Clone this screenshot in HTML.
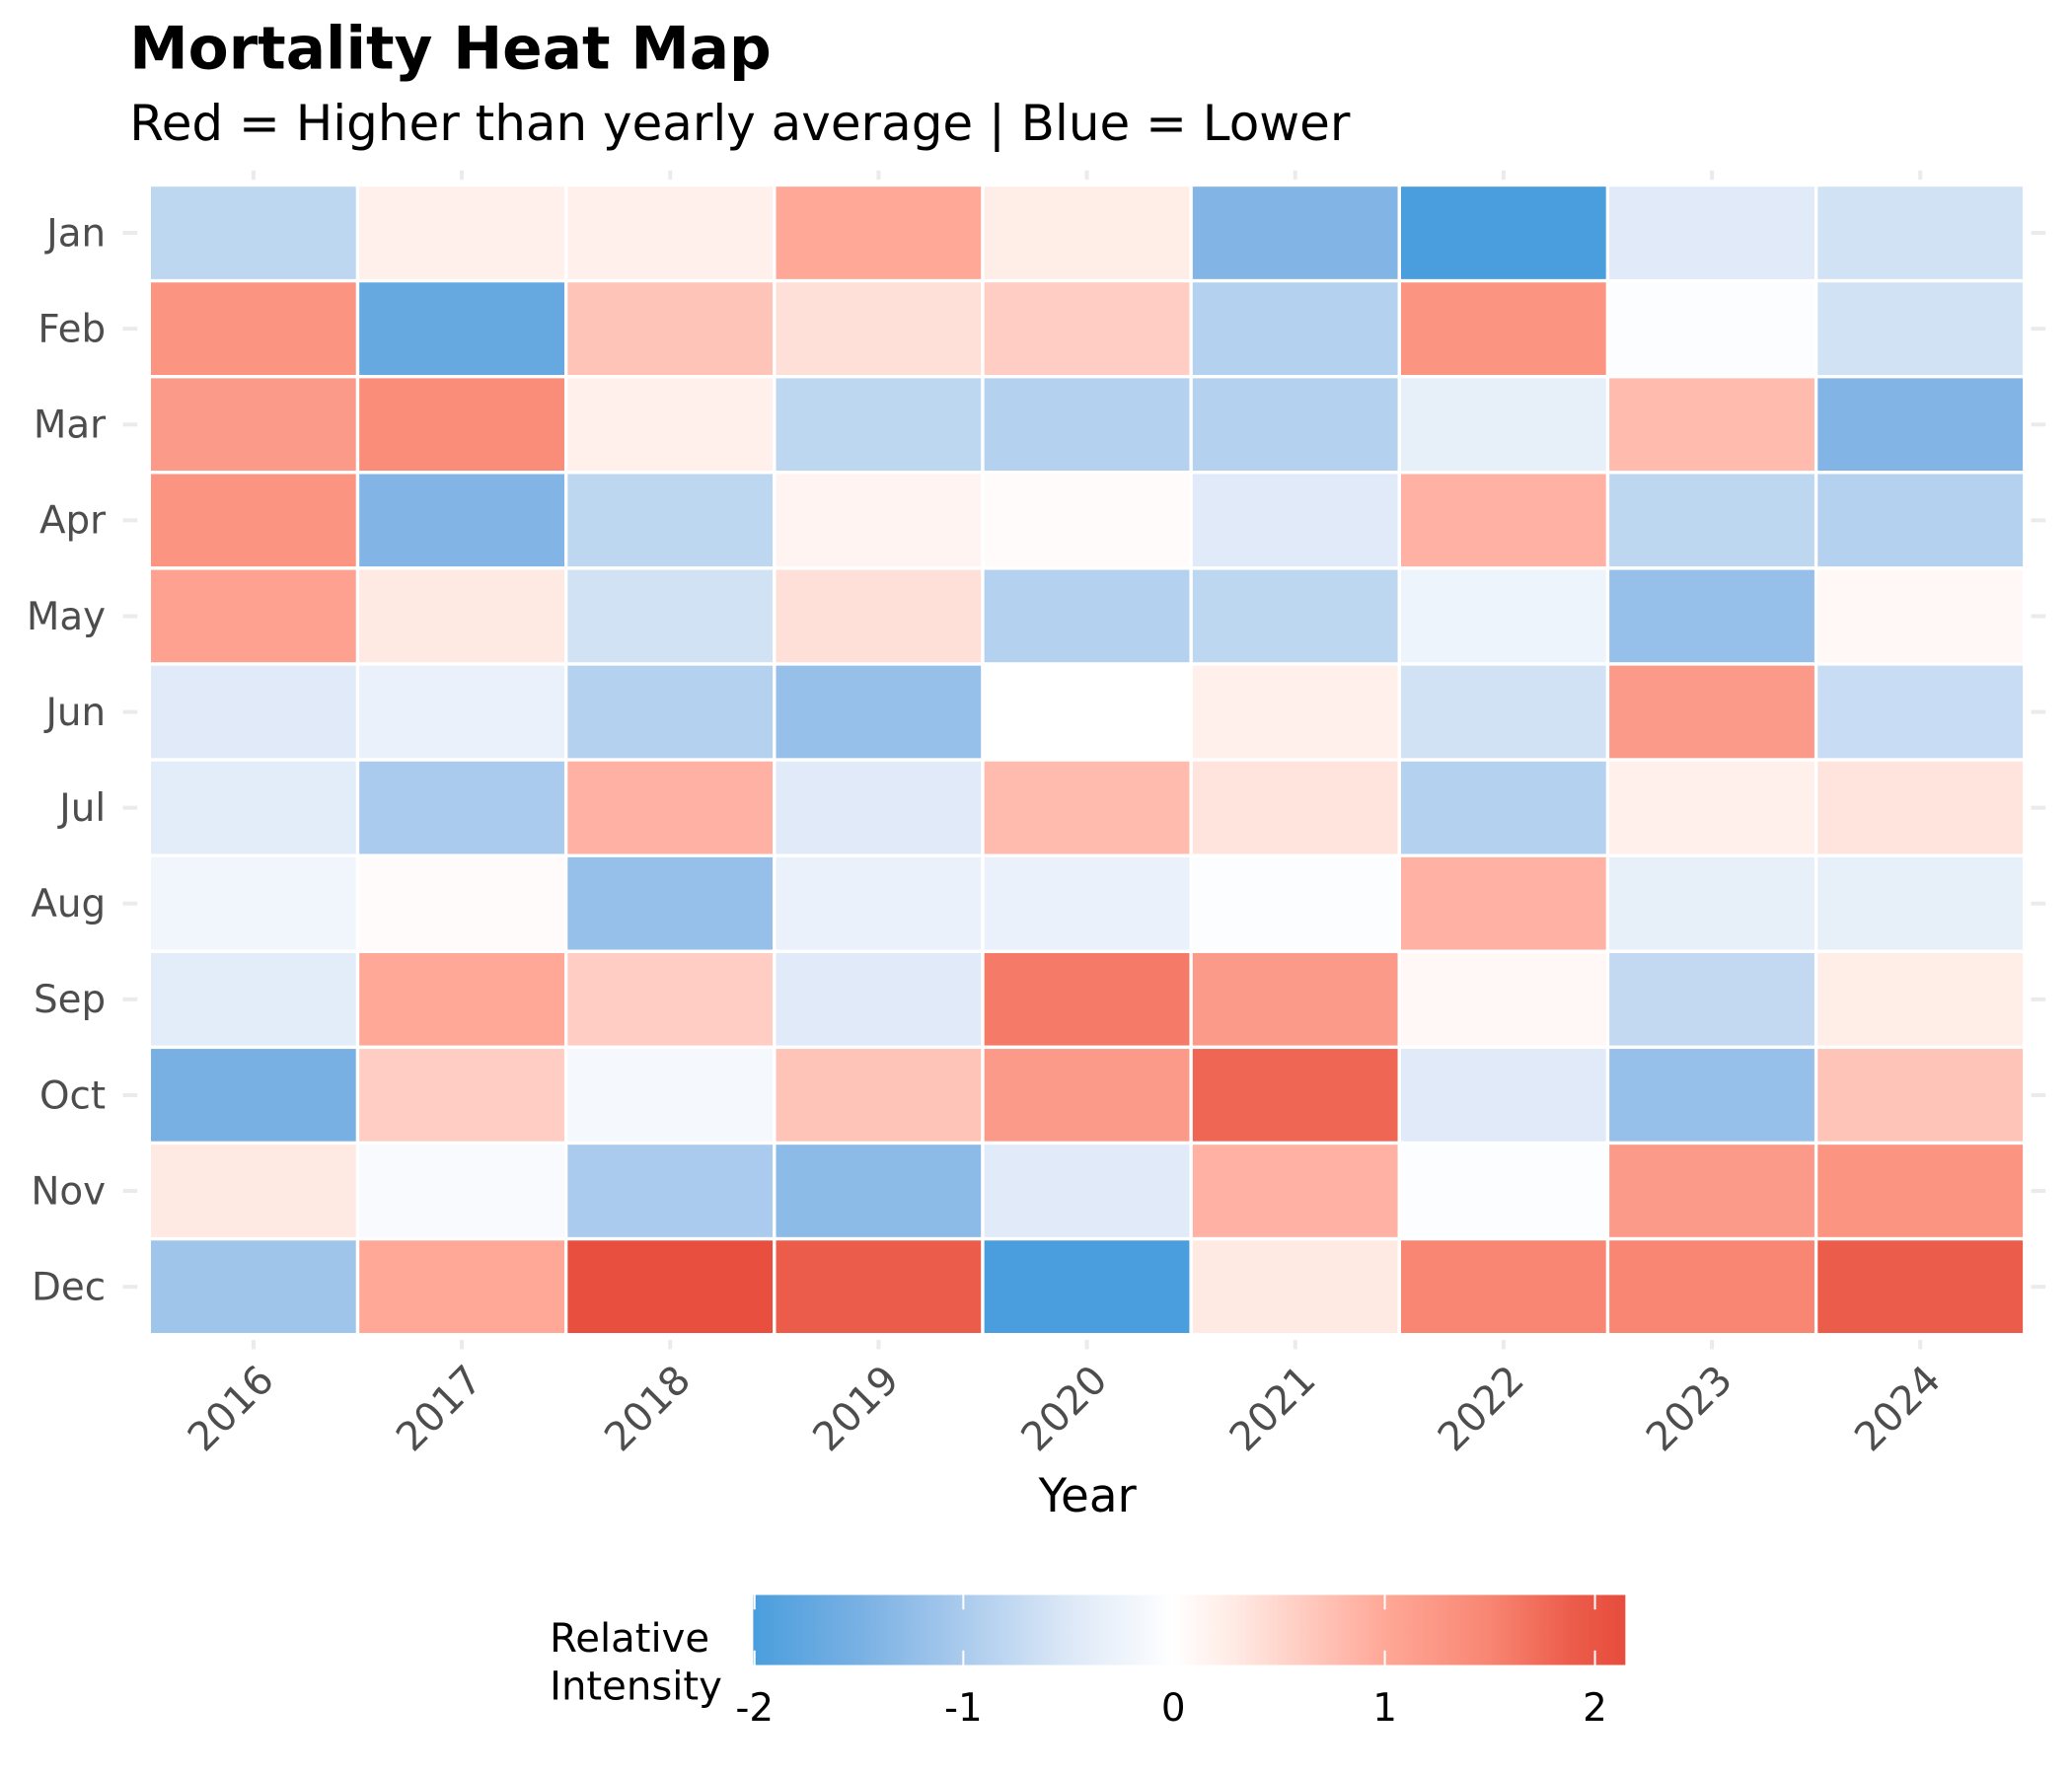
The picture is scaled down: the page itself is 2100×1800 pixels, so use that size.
<!DOCTYPE html>
<html><head><meta charset="utf-8"><style>html,body{margin:0;padding:0;background:#fff}svg{display:block}text{font-family:"DejaVu Sans","Liberation Sans",sans-serif}</style></head>
<body>
<svg id="s" width="2100" height="1800" viewBox="0 0 1568 1344" preserveAspectRatio="none" xmlns="http://www.w3.org/2000/svg">
<defs><linearGradient id="g" x1="0" x2="1" y1="0" y2="0"></linearGradient></defs>
<text x="98" y="52" font-size="44.6" font-weight="bold" fill="#000">Mortality Heat Map</text>
<text x="98" y="106" font-size="37.3" fill="#000">Red = Higher than yearly average | Blue = Lower</text>
<g id="cells"></g>
<g id="axes" fill="#4d4d4d" font-size="29"></g>
<text x="823" y="1144" font-size="35" text-anchor="middle" fill="#000">Year</text>
<text x="416" y="1250" font-size="30" fill="#000">Relative</text>
<text x="416" y="1286" font-size="30" fill="#000">Intensity</text>
<rect x="570" y="1207" width="660" height="53" fill="url(#g)"/>
<g stroke="#fff" stroke-width="1.5">
<line x1="571" y1="1207" x2="571" y2="1218"/><line x1="571" y1="1249" x2="571" y2="1260"/>
<line x1="729" y1="1207" x2="729" y2="1218"/><line x1="729" y1="1249" x2="729" y2="1260"/>
<line x1="1048" y1="1207" x2="1048" y2="1218"/><line x1="1048" y1="1249" x2="1048" y2="1260"/>
<line x1="1207" y1="1207" x2="1207" y2="1218"/><line x1="1207" y1="1249" x2="1207" y2="1260"/>
</g>
<g font-size="29" fill="#000" text-anchor="middle">
<text x="571" y="1302">-2</text><text x="729" y="1302">-1</text><text x="888" y="1302">0</text><text x="1048" y="1302">1</text><text x="1207" y="1302">2</text>
</g>
</svg>
<script>
var V=[
[-0.8,0.2,0.2,1.0,0.25,-1.4,-2.0,-0.45,-0.6],
[1.3,-1.7,0.7,0.4,0.6,-0.9,1.3,-0.05,-0.6],
[1.2,1.4,0.2,-0.8,-0.9,-0.9,-0.35,0.8,-1.4],
[1.3,-1.4,-0.8,0.15,0.05,-0.45,0.9,-0.8,-0.9],
[1.1,0.3,-0.6,0.4,-0.9,-0.8,-0.25,-1.2,0.1],
[-0.45,-0.3,-0.9,-1.2,0,0.2,-0.6,1.2,-0.7],
[-0.4,-1.0,0.9,-0.45,0.8,0.35,-0.9,0.2,0.35],
[-0.2,0.05,-1.2,-0.3,-0.3,-0.05,0.9,-0.35,-0.35],
[-0.4,1.0,0.6,-0.45,1.6,1.2,0.1,-0.75,0.25],
[-1.5,0.6,-0.15,0.7,1.2,1.8,-0.45,-1.2,0.7],
[0.3,-0.1,-1.0,-1.3,-0.45,0.9,-0.05,1.2,1.3],
[-1.1,1.0,2.1,1.9,-2.0,0.3,1.5,1.5,1.9]];
var S=[[-2,[74,158,221]],[-1.5,[120,176,227]],[-1.1,[160,197,235]],[-0.5,[220,232,247]],[0,[255,255,255]],[0.3,[255,233,227]],[1.0,[255,168,152]],[1.5,[248,134,114]],[1.9,[236,92,74]],[2.15,[231,76,60]]];
function col(v){v=Math.max(-2,Math.min(2.15,v));for(var i=0;i<S.length-1;i++){if(v<=S[i+1][0]){var t=(v-S[i][0])/(S[i+1][0]-S[i][0]);var c=S[i][1].map(function(a,k){return Math.round(a+(S[i+1][1][k]-a)*t)});return 'rgb('+c.join(',')+')';}}return 'rgb(231,76,60)';}
var ns='http://www.w3.org/2000/svg',g=document.getElementById('cells'),a=document.getElementById('axes'),gr=document.getElementById('g');
function el(p,tag,at,txt){var e=document.createElementNS(ns,tag);for(var k in at)e.setAttribute(k,at[k]);if(txt)e.textContent=txt;p.appendChild(e);return e;}
S.forEach(function(s){el(gr,'stop',{offset:(s[0]+2)/4.15,'stop-color':'rgb('+s[1].join(',')+')'});});
var x0=113,x1=1532,y0=140,y1=1010,cw=(x1-x0)/9,ch=(y1-y0)/12;
var M=['Jan','Feb','Mar','Apr','May','Jun','Jul','Aug','Sep','Oct','Nov','Dec'];
for(var r=0;r<12;r++)for(var c=0;c<9;c++)el(g,'rect',{x:x0+c*cw,y:y0+r*ch,width:cw,height:ch,fill:col(V[r][c]),stroke:'#fff','stroke-width':2.5});
for(var r=0;r<12;r++){var y=y0+(r+.5)*ch;
el(a,'line',{x1:93,x2:104,y1:y,y2:y,stroke:'#ebebeb','stroke-width':3});
el(a,'line',{x1:1537,x2:1548,y1:y,y2:y,stroke:'#ebebeb','stroke-width':3});
el(a,'text',{x:80,y:y+10,'text-anchor':'end'},M[r]);}
for(var c=0;c<9;c++){var x=x0+(c+.5)*cw;
el(a,'line',{x1:x,x2:x,y1:129,y2:136,stroke:'#ebebeb','stroke-width':3});
el(a,'line',{x1:x,x2:x,y1:1014,y2:1021,stroke:'#ebebeb','stroke-width':3});
el(a,'text',{x:x+17,y:1046,'text-anchor':'end','font-size':30,transform:'rotate(-45 '+(x+17)+' 1046)'},String(2016+c));}
</script>
</body></html>
